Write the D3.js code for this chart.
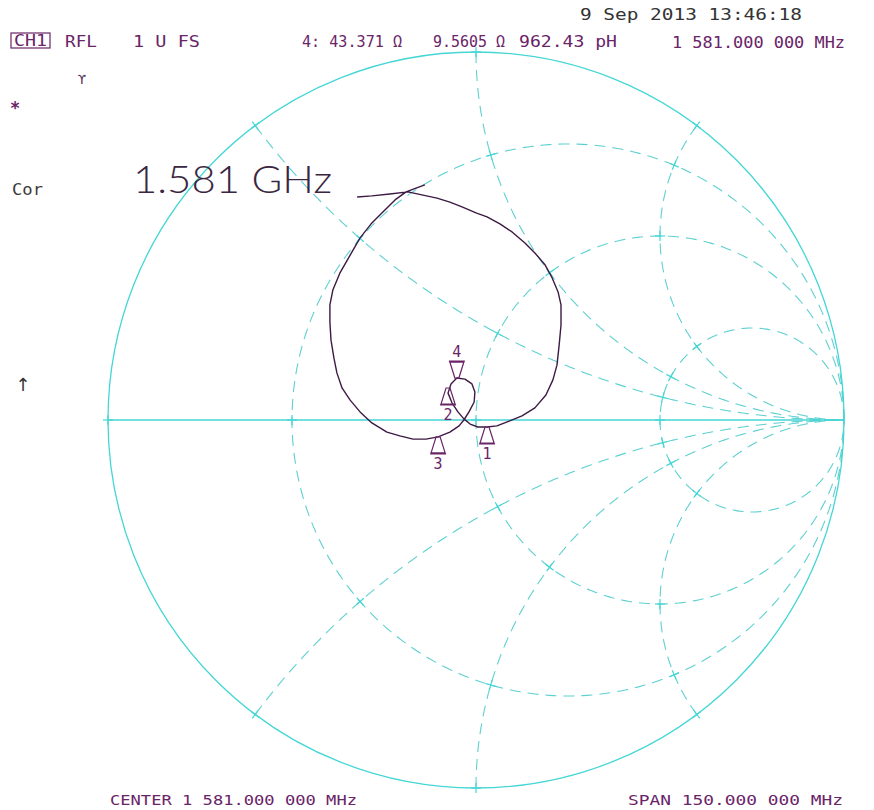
<!DOCTYPE html>
<html>
<head>
<meta charset="utf-8">
<script src="https://cdn.jsdelivr.net/npm/d3@7"></script>
<style>
  body { margin: 0; background: #fff; }
  text { font-family: "DejaVu Sans Mono", monospace; }
</style>
</head>
<body>
<div id="chart"></div>
<script>
var traceRe = [-0.323, -0.283, -0.234, -0.185, -0.144, -0.106, -0.071, -0.038, 0.000, 0.030,
    0.065, 0.098, 0.133, 0.160, 0.188, 0.207, 0.223, 0.231, 0.231, 0.226,
    0.220, 0.209, 0.190, 0.160, 0.125, 0.090, 0.057, 0.030, 0.005, -0.016,
    -0.033, -0.049, -0.065, -0.076, -0.068, -0.052, -0.030, -0.011, -0.003, -0.005,
    -0.019, -0.033, -0.046, -0.071, -0.103, -0.136, -0.171, -0.207, -0.242, -0.283,
    -0.315, -0.342, -0.364, -0.378, -0.386, -0.394, -0.397, -0.397, -0.389, -0.370,
    -0.342, -0.315, -0.285, -0.253, -0.220, -0.190, -0.163, -0.139];
var traceIm = [0.606, 0.609, 0.614, 0.620, 0.611, 0.603, 0.592, 0.579, 0.563, 0.552,
    0.533, 0.511, 0.481, 0.454, 0.421, 0.386, 0.348, 0.313, 0.258, 0.204,
    0.149, 0.109, 0.068, 0.033, 0.011, -0.003, -0.016, -0.019, -0.019, -0.011,
    0.003, 0.022, 0.046, 0.073, 0.098, 0.114, 0.111, 0.098, 0.076, 0.049,
    0.022, 0.000, -0.016, -0.033, -0.046, -0.052, -0.052, -0.043, -0.033, -0.008,
    0.022, 0.054, 0.087, 0.128, 0.168, 0.217, 0.266, 0.313, 0.353, 0.399,
    0.448, 0.495, 0.533, 0.565, 0.598, 0.620, 0.630, 0.639];

// markers
var markerNames = ["1", "2", "3", "4"];
var markerRe = [0.030, -0.076, -0.103, -0.052];
var markerIm = [-0.019, 0.087, -0.046, 0.114];
var activeMarker = "4";

// smith grid: constant resistance circles and reactance arcs
var resistanceCircles = [1 / 3, 1, 3];
var reactanceArcs = [0.5, 1, 2, -0.5, -1, -2];

var purple = "#6a2468";
var gridSolid = "#45d6d6", gridDash = "#5fd0d0";

var width = 874, height = 810;
var cx = 476, cy = 420, R = 368;

var svg = d3.select("#chart")
    .append("svg")
    .attr("width", width)
    .attr("height", height);

var x = d3.scaleLinear().domain([-1, 1]).range([cx - R, cx + R]);
var y = d3.scaleLinear().domain([-1, 1]).range([cy + R, cy - R]);

var line = d3.line()
    .x(function (d) { return x(d[0]); })
    .y(function (d) { return y(d[1]); });

// z = r + jx  ->  gamma
function gamma(r, xi) {
    var den = (r + 1) * (r + 1) + xi * xi;
    return [(r * r - 1 + xi * xi) / den, 2 * xi / den];
}

var grid = svg.append("g");

// resistance circles
resistanceCircles.forEach(function (r) {
    var c = r / (r + 1), rad = 1 / (r + 1);
    var pts = d3.range(0, 361, 1).map(function (a) {
        var t = a * Math.PI / 180;
        return [c + rad * Math.cos(t), rad * Math.sin(t)];
    });
    grid.append("path")
        .datum(pts)
        .attr("fill", "none")
        .attr("stroke", gridDash)
        .attr("stroke-width", 1.1)
        .attr("stroke-dasharray", "11,7")
        .attr("d", line);
});

// reactance arcs
reactanceArcs.forEach(function (xi) {
    var pts = d3.range(0, 1.5698, 0.004).map(function (p) {
        return gamma(Math.tan(p), xi);
    });
    pts.push([1, 0]);
    grid.append("path")
        .datum(pts)
        .attr("fill", "none")
        .attr("stroke", gridDash)
        .attr("stroke-width", 1.1)
        .attr("stroke-dasharray", "11,7")
        .attr("d", line);
});

// outer circle and real axis
grid.append("circle")
    .attr("cx", x(0))
    .attr("cy", y(0))
    .attr("r", x(1) - x(0))
    .attr("fill", "none")
    .attr("stroke", gridSolid)
    .attr("stroke-width", 1.3);

grid.append("line")
    .attr("x1", x(-1)).attr("x2", x(1))
    .attr("y1", y(0)).attr("y2", y(0))
    .attr("stroke", gridSolid)
    .attr("stroke-width", 1.6);

// little solid crosses where grid lines meet
function tick(g, p, c) {
    var px = x(p[0]), py = y(p[1]);
    var dx = px - x(c[0]), dy = py - y(c[1]);
    var len = Math.sqrt(dx * dx + dy * dy) || 1;
    var tx = -dy / len * 5, ty = dx / len * 5;
    g.append("line")
        .attr("x1", px - tx).attr("y1", py - ty)
        .attr("x2", px + tx).attr("y2", py + ty)
        .attr("stroke", gridSolid)
        .attr("stroke-width", 1.2);
}
[0].concat(resistanceCircles).forEach(function (r) {
    [0].concat(reactanceArcs).forEach(function (xi) {
        var p = gamma(r, xi);
        tick(grid, p, [r / (r + 1), 0]);
        if (xi === 0) {
            tick(grid, p, [p[0], p[1] - 1]);
        } else {
            tick(grid, p, [1, 1 / xi]);
        }
    });
});

// measured trace
svg.append("path")
    .datum(d3.zip(traceRe, traceIm))
    .attr("fill", "none")
    .attr("stroke", "#3d1a44")
    .attr("stroke-width", 1.4)
    .attr("stroke-linejoin", "round")
    .attr("d", line);

// markers
markerNames.forEach(function (name, i) {
    var px = x(markerRe[i]), py = y(markerIm[i]);
    var dir = name === activeMarker ? -1 : 1;
    var g = svg.append("g");
    g.append("path")
        .attr("d", "M" + (px - 2) + "," + py + "L" + (px + 2) + "," + py +
            "L" + (px + 7) + "," + (py + dir * 16) + "L" + (px - 7) + "," + (py + dir * 16) + "Z" +
            "M" + (px - 8) + "," + (py + dir * 17) + "L" + (px + 8) + "," + (py + dir * 17))
        .attr("fill", "none")
        .attr("stroke", purple)
        .attr("stroke-width", 1.2);
    g.append("text")
        .attr("x", px)
        .attr("y", dir > 0 ? py + 32 : py - 21)
        .attr("text-anchor", "middle")
        .attr("font-size", 15)
        .attr("fill", purple)
        .text(name);
});

// screen annotations
function label(str, x0, y0, len, color, size) {
    return svg.append("text")
        .attr("x", x0)
        .attr("y", y0)
        .attr("font-size", size || 15)
        .attr("fill", color)
        .attr("textLength", len)
        .attr("lengthAdjust", "spacingAndGlyphs")
        .text(str);
}

label("9 Sep 2013  13:46:18", 580, 20, 222, "#333");

svg.append("rect")
    .attr("x", 11).attr("y", 33)
    .attr("width", 39).attr("height", 15)
    .attr("fill", "none")
    .attr("stroke", purple)
    .attr("stroke-width", 1.2);
label("CH1", 14, 46, 33, purple);
label("RFL", 65, 47, 32, purple);
label("1 U FS", 133, 47, 67, purple);
label("4: 43.371 \u03a9", 302, 47, 100, purple);
label("9.5605 \u03a9", 433, 47, 72, purple);
label("962.43 pH", 519, 47, 98, purple);
label("1 581.000 000 MHz", 672, 48, 173, purple);

svg.append("text")
    .attr("x", 82).attr("y", 84)
    .attr("text-anchor", "middle")
    .attr("font-size", 13)
    .attr("fill", "#553355")
    .text("\u03d2");

svg.append("text")
    .attr("x", 15).attr("y", 114)
    .attr("text-anchor", "middle")
    .attr("font-size", 17)
    .attr("font-weight", "bold")
    .attr("fill", purple)
    .text("*");

label("Cor", 12, 195, 31, "#3a3a3a");

svg.append("text")
    .attr("x", 133).attr("y", 193)
    .style("font-family", "Lato, 'DejaVu Sans', sans-serif")
    .style("font-weight", 300)
    .attr("font-size", 37)
    .attr("fill", "#3a2640")
    .attr("textLength", 199)
    .attr("lengthAdjust", "spacingAndGlyphs")
    .text("1.581 GHz");

svg.append("text")
    .attr("x", 23).attr("y", 391)
    .attr("text-anchor", "middle")
    .style("font-family", "'DejaVu Sans', sans-serif")
    .attr("font-size", 18)
    .attr("fill", "#333")
    .text("\u2191");

label("CENTER 1 581.000 000 MHz", 110, 805, 247, purple, 14);
label("SPAN  150.000 000 MHz", 628, 805, 215, purple, 14);
</script>
</body>
</html>
